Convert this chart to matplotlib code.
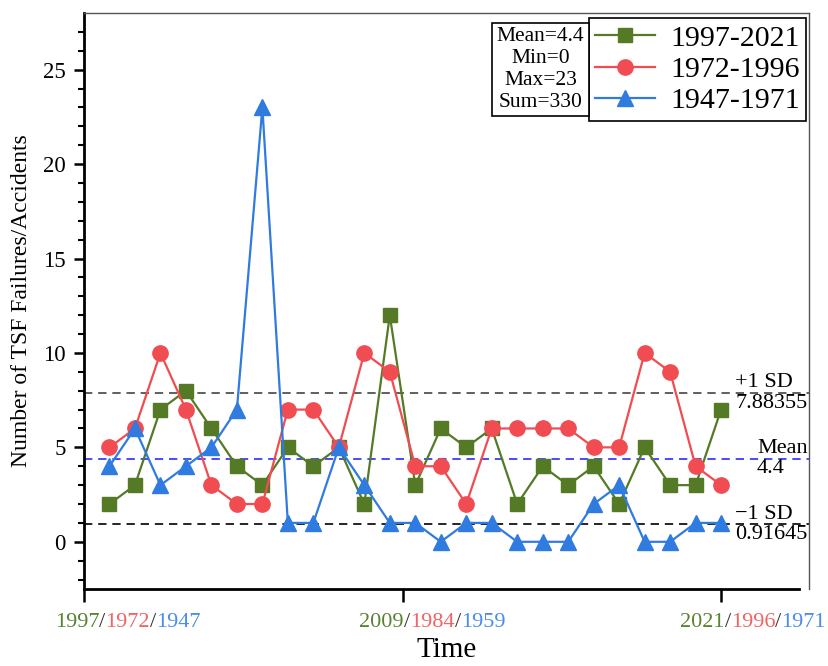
import matplotlib
matplotlib.use("Agg")
import matplotlib.pyplot as plt
import numpy as np
from matplotlib.offsetbox import AnnotationBbox, HPacker, TextArea

plt.rcParams["font.family"] = ["Liberation Serif", "DejaVu Serif"]

# yearly counts of TSF failures/accidents, three 25-year windows
years_1997 = list(range(1997, 2022))
counts_1997 = [2, 3, 7, 8, 6, 4, 3, 5, 4, 5, 2, 12, 3, 6, 5, 6, 2, 4, 3, 4, 2, 5, 3, 3, 7]
counts_1972 = [5, 6, 10, 7, 3, 2, 2, 7, 7, 5, 10, 9, 4, 4, 2, 6, 6, 6, 6, 5, 5, 10, 9, 4, 3]
counts_1947 = [4, 6, 3, 4, 5, 7, 23, 1, 1, 5, 3, 1, 1, 0, 1, 1, 0, 0, 0, 2, 3, 0, 0, 1, 1]
series_labels = ["1997-2021", "1972-1996", "1947-1971"]
tick_years = [("1997", "1972", "1947"), ("2009", "1984", "1959"), ("2021", "1996", "1971")]
tick_pos = [0, 12.5, 25]

GREEN, RED, BLUE = "#557a26", "#f04c52", "#2f7be0"
TICK_COLORS = ["#5b8232", "#f06464", "#4b8cf0"]

allv = np.array(counts_1997 + counts_1972 + counts_1947)
mean = allv.mean()
sd = allv.std(ddof=1)

fig = plt.figure(figsize=(8.29, 6.66), dpi=100)
ax = fig.add_axes([0.1013, 0.1156, 0.8746, 0.8649])

x = np.arange(1, len(years_1997) + 1)
ax.plot(x, counts_1997, "-s", color=GREEN, lw=1.6, ms=10, label=series_labels[0], zorder=3)
ax.plot(x, counts_1972, "-o", color=RED, lw=1.6, ms=11, label=series_labels[1], zorder=4)
ax.plot(x, counts_1947, "-^", color=BLUE, lw=1.6, ms=11.5, label=series_labels[2], zorder=5)

ax.axhline(mean + sd, color="#444444", ls=(0, (5, 3.5)), lw=1.2, zorder=2)
ax.axhline(mean, color="#2b2bff", ls=(0, (5, 3.5)), lw=1.2, zorder=2)
ax.axhline(mean - sd, color="black", ls=(0, (5, 3.5)), lw=1.2, zorder=2)

ax.set_xlim(0, 28.45)
ax.set_ylim(-2.5, 28)

# reference line labels, right edge on the frame
for yv, txt in [(mean + sd, f"+1 SD\n{mean + sd:.5f}"),
                (mean, f"Mean\n{mean:.1f}"),
                (mean - sd, f"-1 SD\n{mean - sd:.5f}")]:
    ax.text(0.998, yv, txt.replace("-", "\u2212"), transform=ax.get_yaxis_transform(),
            ha="right", va="center", multialignment="left", fontsize=16,
            linespacing=1.1, zorder=6)

ax.set_yticks([0, 5, 10, 15, 20, 25])
ax.set_yticks(np.arange(-2, 28, 1), minor=True)
ax.tick_params(axis="y", which="major", length=7, width=1.8, labelsize=16.5, pad=6)
ax.tick_params(axis="y", which="minor", length=4.5, width=1.5)
ax.set_xticks(tick_pos)
ax.set_xticklabels([])
ax.tick_params(axis="x", which="major", length=9, width=1.8)

for s in ("left", "bottom"):
    ax.spines[s].set_linewidth(2)
for s in ("top", "right"):
    ax.spines[s].set_linewidth(1)
    ax.spines[s].set_color("#555555")
ax.spines["bottom"].set_bounds(0, 28.05)

# three-coloured year labels under each tick
label_shift = [-21, -31, -29.5]
for pos, dx, (a, b, c) in zip(tick_pos, label_shift, tick_years):
    parts = []
    for i, (t, col) in enumerate(zip((a, b, c), TICK_COLORS)):
        if i:
            parts.append(TextArea("/", textprops=dict(color="#333333", size=16)))
        parts.append(TextArea(t, textprops=dict(color=col, size=16)))
    box = HPacker(children=parts, align="baseline", pad=0, sep=0)
    ab = AnnotationBbox(box, (pos, 0), xycoords=ax.get_xaxis_transform(),
                        xybox=(dx, -17), boxcoords="offset points",
                        box_alignment=(0, 1), frameon=False, annotation_clip=False)
    ax.add_artist(ab)

ax.set_ylabel("Number of TSF Failures/Accidents", fontsize=17, labelpad=8)
ax.set_xlabel("Time", fontsize=21, labelpad=22)

leg = ax.legend(loc="upper right", bbox_to_anchor=(0.996, 0.991), borderaxespad=0,
                fontsize=21.5, frameon=True, fancybox=False, framealpha=1,
                edgecolor="black", handlelength=2.0, handletextpad=0.5,
                borderpad=0.22, labelspacing=0.15)
leg.get_frame().set_linewidth(1.2)

stats = (f"Mean={mean:.1f}\nMin={allv.min()}\nMax={allv.max()}\nSum={allv.sum()}")
ax.text(0.6297, 0.902, stats, transform=ax.transAxes, ha="center", va="center",
        multialignment="center", fontsize=15.5, linespacing=1.22,
        bbox=dict(boxstyle="square,pad=0.2", fc="white", ec="black", lw=1.2), zorder=7)

fig.savefig("out.png", dpi=100)
